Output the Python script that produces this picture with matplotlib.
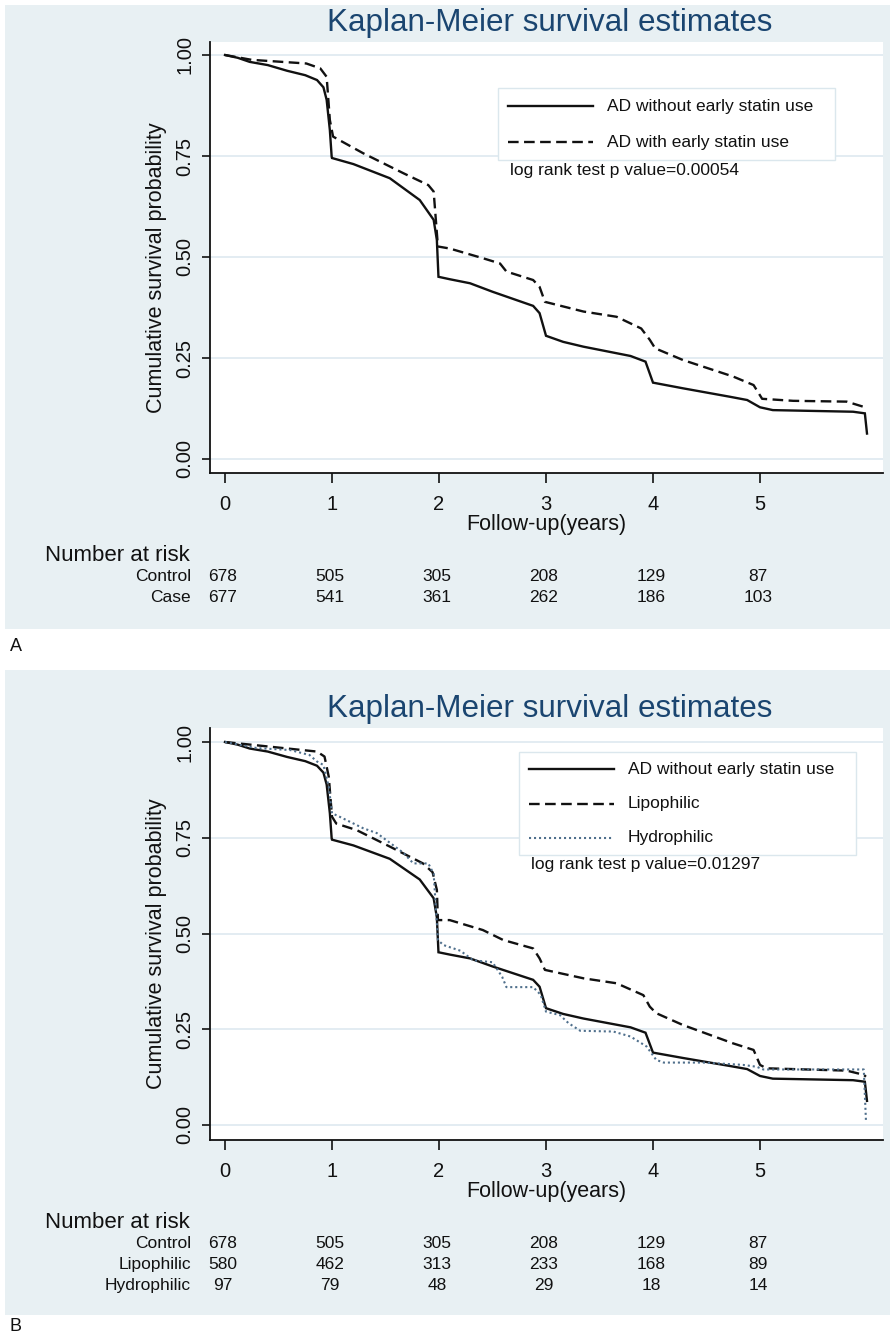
import matplotlib
matplotlib.use("Agg")
import matplotlib.pyplot as plt
from matplotlib.patches import Rectangle
from matplotlib.lines import Line2D
from matplotlib.transforms import blended_transform_factory

plt.rcParams['font.family'] = ['Liberation Sans', 'DejaVu Sans']

# ---------------- data ----------------
title = "Kaplan-Meier survival estimates"
xlabel = "Follow-up(years)"
ylabel = "Cumulative survival probability"
yticks = [0.0, 0.25, 0.5, 0.75, 1.0]
ytick_labels = ["0.00", "0.25", "0.50", "0.75", "1.00"]
xticks = [0, 1, 2, 3, 4, 5]

# AD without early statin use (Control)
ctrl_t = [0, 0.12, 0.23, 0.4, 0.58, 0.75, 0.86, 0.92, 0.95, 0.98, 0.997, 1.0, 1.2, 1.54,
          1.82, 1.95, 1.98, 1.995, 2.1, 2.29, 2.5, 2.88, 2.94, 3.0, 3.16, 3.35, 3.79, 3.93,
          4.0, 4.28, 4.72, 4.88, 5.0, 5.12, 5.87, 5.98, 6.0]
ctrl_s = [1.0, 0.993, 0.983, 0.975, 0.961, 0.95, 0.938, 0.92, 0.889, 0.814, 0.748, 0.745,
          0.73, 0.695, 0.641, 0.592, 0.542, 0.451, 0.445, 0.435, 0.414, 0.379, 0.361, 0.305,
          0.29, 0.278, 0.255, 0.241, 0.189, 0.175, 0.154, 0.146, 0.128, 0.121, 0.117, 0.113,
          0.063]

# AD with early statin use (Case)
case_t = [0, 0.25, 0.76, 0.89, 0.95, 0.98, 1.01, 1.29, 1.67, 1.9, 1.95, 1.99, 2.1, 2.41,
          2.57, 2.63, 2.88, 2.94, 2.99, 3.35, 3.66, 3.89, 3.97, 4.02, 4.28, 4.75, 4.94, 5.02,
          5.31, 5.81, 5.97, 5.99]
case_s = [1.0, 0.988, 0.979, 0.967, 0.946, 0.839, 0.798, 0.757, 0.707, 0.678, 0.662, 0.526,
          0.521, 0.497, 0.484, 0.464, 0.443, 0.426, 0.389, 0.365, 0.352, 0.323, 0.295, 0.274,
          0.245, 0.204, 0.183, 0.149, 0.144, 0.142, 0.129, 0.125]

# Lipophilic
lipo_t = [0, 0.55, 0.86, 0.93, 0.97, 1.0, 1.04, 1.23, 1.54, 1.85, 1.94, 1.98, 1.99, 2.1,
          2.41, 2.6, 2.88, 2.94, 2.99, 3.35, 3.66, 3.91, 3.97, 4.03, 4.28, 4.75, 4.94, 5.0,
          5.06, 5.81, 5.97, 5.99]
lipo_s = [1.0, 0.984, 0.975, 0.962, 0.909, 0.805, 0.787, 0.77, 0.727, 0.683, 0.66, 0.614,
          0.535, 0.535, 0.509, 0.483, 0.461, 0.435, 0.405, 0.383, 0.37, 0.339, 0.309, 0.292,
          0.261, 0.213, 0.196, 0.157, 0.148, 0.142, 0.131, 0.126]

# Hydrophilic
hydro_t = [0, 0.3, 0.61, 0.79, 0.86, 0.92, 0.97, 1.0, 1.07, 1.29, 1.42, 1.67, 1.76, 1.9,
           1.95, 1.98, 1.99, 2.04, 2.2, 2.32, 2.5, 2.59, 2.63, 2.88, 2.95, 3.0, 3.13, 3.21,
           3.32, 3.63, 3.79, 3.94, 4.03, 4.1, 4.47, 4.84, 4.97, 5.03, 5.97, 5.99]
hydro_s = [1.0, 0.984, 0.979, 0.966, 0.949, 0.94, 0.883, 0.814, 0.805, 0.775, 0.762, 0.71,
           0.683, 0.683, 0.656, 0.527, 0.483, 0.47, 0.455, 0.43, 0.425, 0.387, 0.36, 0.36,
           0.34, 0.296, 0.287, 0.266, 0.246, 0.244, 0.231, 0.205, 0.17, 0.163, 0.163, 0.157,
           0.152, 0.145, 0.145, 0.013]

risk_times = [0, 1, 2, 3, 4, 5]
risk_A_names = ["Control", "Case"]
risk_A_control = [678, 505, 305, 208, 129, 87]
risk_A_case = [677, 541, 361, 262, 186, 103]
risk_B_names = ["Control", "Lipophilic", "Hydrophilic"]
risk_B_control = [678, 505, 305, 208, 129, 87]
risk_B_lipo = [580, 462, 313, 233, 168, 89]
risk_B_hydro = [97, 79, 48, 29, 18, 14]

legend_A = ["AD without early statin use", "AD with early statin use"]
legend_B = ["AD without early statin use", "Lipophilic", "Hydrophilic"]
pval_A = "log rank test p value=0.00054"
pval_B = "log rank test p value=0.01297"

# ---------------- style ----------------
W, H = 895, 1333
BG = '#e8f0f3'
GRID = '#e0ebf1'
TITLE_C = '#1a4570'
LINE_C = '#111111'
DOT_C = '#4f6f8c'
DASH = (0, (4.5, 2.3))
DOTS = (0, (1, 1.4))

fig = plt.figure(figsize=(W / 100, H / 100), dpi=100)
fig.patch.set_facecolor('white')


def fx(px):
    return px / W


def fy(py):
    return 1 - py / H


def panel(top, ax_top, ax_bot, bg_bot, ylims, series, styles, labels, pval, leg_box,
          risk_names, risk_rows, plabel, plabel_y):
    # background of the graph region
    fig.patches.append(Rectangle((fx(5), fy(bg_bot)), fx(890) - fx(5), fy(top) - fy(bg_bot),
                                 transform=fig.transFigure, facecolor=BG, edgecolor='none',
                                 zorder=-10))
    ax = fig.add_axes([fx(210), fy(ax_bot), (883 - 210) / W, (ax_bot - ax_top) / H])
    ax.set_facecolor('white')
    for (t, s), st in zip(series, styles):
        ax.plot(t, s, color=st[0], linestyle=st[1], lw=st[2], solid_joinstyle='miter')
    ax.set_xlim((210 - 225) / 107, (883 - 225) / 107)
    ax.set_ylim(*ylims)
    ax.set_yticks(yticks)
    ax.set_yticklabels(ytick_labels, rotation=90, va='center')
    ax.set_xticks(xticks)
    ax.tick_params(axis='y', labelsize=14.5, length=6, width=1.2, pad=5, colors='#111111')
    ax.tick_params(axis='x', labelsize=14.5, length=7, width=1.2, pad=9, colors='#111111')
    ax.grid(axis='y', color=GRID, lw=1.3)
    ax.set_axisbelow(True)
    for sp in ['top', 'right']:
        ax.spines[sp].set_visible(False)
    for sp in ['left', 'bottom']:
        ax.spines[sp].set_linewidth(1.3)
        ax.spines[sp].set_color('#111111')
    ax.set_ylabel(ylabel, fontsize=15.5, va='center', color='#111111')
    ax.yaxis.set_label_coords((157 - 210) / 673,
                              (ax_bot - (ax_top + ax_bot) / 2 - 10) / (ax_bot - ax_top))
    # title
    fig.text(fx(550), fy(ax_top - 11), title, fontsize=22.6, color=TITLE_C, ha='center',
             va='baseline')
    # x axis title
    fig.text(fx(546), fy(ax_bot + 57), xlabel, fontsize=15.5, ha='center', va='baseline',
             color='#111111')
    # legend box
    x0, y0, x1, y1 = leg_box
    fig.patches.append(Rectangle((fx(x0), fy(y1)), fx(x1) - fx(x0), fy(y0) - fy(y1),
                                 transform=fig.transFigure, facecolor='white',
                                 edgecolor='#dbe7ed', lw=1.0, zorder=3))
    n = len(labels)
    step = (y1 - y0) / n
    for i, (lab, st) in enumerate(zip(labels, styles)):
        yy = y0 + step * (i + 0.5)
        fig.add_artist(Line2D([fx(x0 + 10), fx(x0 + 95)], [fy(yy), fy(yy)], color=st[0],
                              linestyle=st[1], lw=st[2], transform=fig.transFigure, zorder=4))
        fig.text(fx(x0 + 109), fy(yy), lab, fontsize=12.5, va='center', ha='left',
                 color='#111111', zorder=4)
    fig.text(fx(x0 + 12), fy(y1 + 10), pval, fontsize=12.5, va='center', ha='left',
             color='#111111', zorder=4)
    # risk table
    trans = blended_transform_factory(ax.transData, fig.transFigure)
    fig.text(fx(45), fy(ax_bot + 88), "Number at risk", fontsize=16, ha='left', va='baseline',
             color='#111111')
    for r, (name, vals) in enumerate(zip(risk_names, risk_rows)):
        yb = ax_bot + 108 + 21 * r
        fig.text(fx(191), fy(yb), name, fontsize=12.5, ha='right', va='baseline',
                 color='#111111')
        for tt, v in zip(risk_times, vals):
            ax.text(tt - 0.02, fy(yb), str(v), transform=trans, fontsize=12.5, ha='center',
                    va='baseline', color='#111111', clip_on=False)
    fig.text(fx(10), fy(plabel_y), plabel, fontsize=13, ha='left', va='baseline',
             color='#111111')
    return ax


solid = (LINE_C, '-', 1.7)
dashed = (LINE_C, DASH, 1.7)
dotted = (DOT_C, DOTS, 1.5)

panel(5, 42, 473, 629, ((459 - 473) / 404, (459 - 42) / 404),
      [(ctrl_t, ctrl_s), (case_t, case_s)], [solid, dashed], legend_A,
      pval_A, (498, 88, 835, 160), risk_A_names, [risk_A_control, risk_A_case], 'A', 651)

panel(670, 728, 1140, 1315, ((1125 - 1140) / 383, (1125 - 728) / 383),
      [(ctrl_t, ctrl_s), (lipo_t, lipo_s), (hydro_t, hydro_s)],
      [solid, dashed, dotted], legend_B, pval_B, (519, 752, 856, 855), risk_B_names,
      [risk_B_control, risk_B_lipo, risk_B_hydro], 'B', 1331)

fig.savefig('out.png', dpi=100, facecolor='white')
